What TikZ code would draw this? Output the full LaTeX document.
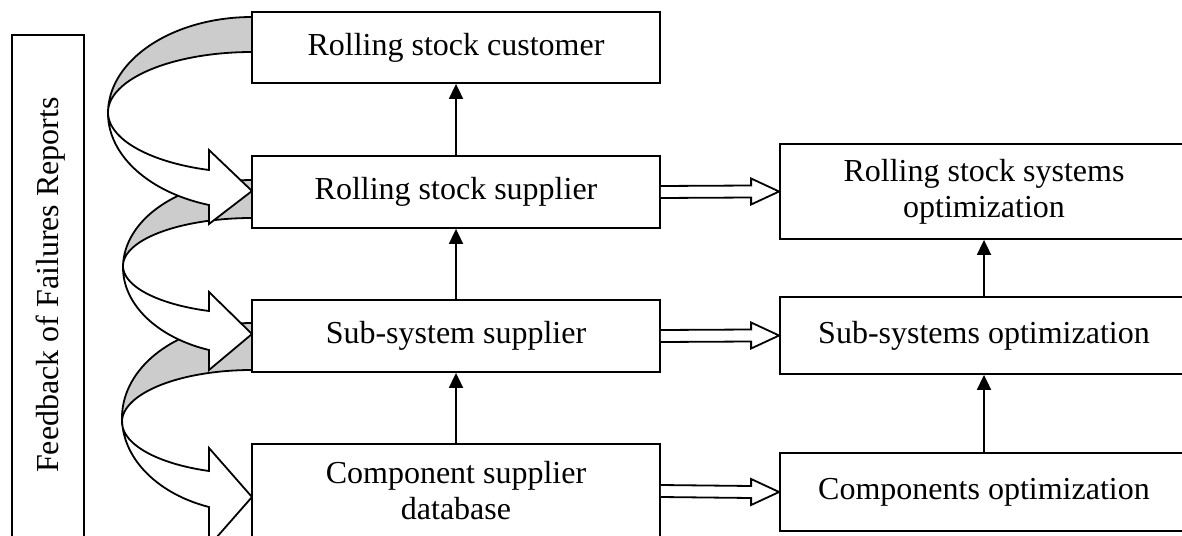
\documentclass[tikz,border=0pt]{standalone}
\usepackage{fontspec}
\setmainfont{Liberation Serif}
\usetikzlibrary{arrows.meta,calc}

\definecolor{bandgray}{RGB}{204,204,204}

\tikzset{
  box/.style={draw, line width=0.9pt, fill=white, inner sep=0pt,
    minimum width=204pt, align=center, font=\fontsize{16}{18}\selectfont},
  up/.style={draw, line width=0.9pt, -{Triangle[length=7.5pt,width=7pt]}},
  fat/.style={draw, line width=0.9pt, fill=white, line join=miter},
  band/.style={draw, line width=0.9pt, fill=bandgray},
  front/.style={draw, line width=0.9pt, fill=white, line join=miter},
}

% back half of a looping feedback arrow: rx, cy(outer), ry(outer), cy(inner), ry(inner)
\newcommand\loopband[5]{%
  \path[band] plot[domain=270:180, samples=60] ({252+#1*cos(\x)},{#2+#3*sin(\x)})
    -- plot[domain=180:270, samples=60] ({252+#1*cos(\x)},{#4+#5*sin(\x)}) -- cycle;}

% front half with its head: rx, cy(o), ry(o), cy(i), ry(i), end angle, head top, tip y, head bottom
\newcommand\loopfront[9]{%
  \path[front] plot[domain=180:#6, samples=40] ({252+#1*cos(\x)},{#2+#3*sin(\x)})
    -- (209,#9) -- (252,#8) -- (209,#7)
    -- plot[domain=#6:180, samples=40] ({252+#1*cos(\x)},{#4+#5*sin(\x)}) -- cycle;}

% wide hollow arrow between two boxes
\newcommand\fatarrow[2]{%
  \path[fat] ($(#1.east)+(0,-6)$) -- ($(#2.west)+(-28,-6)$) -- ($(#2.west)+(-28,-13)$)
    -- (#2.west) -- ($(#2.west)+(-28,13)$) -- ($(#2.west)+(-28,6)$) -- ($(#1.east)+(0,6)$);}

\begin{document}
\begin{tikzpicture}[x=0.5pt, y=-0.5pt]
  \path[use as bounding box, clip] (0,0) rectangle (1182,535);

  % looping feedback arrows on the left
  \loopband{144}{113.19}{96.19}{112.38}{60.38}
  \loopband{129}{267.5}{87.5}{265.87}{47.87}
  \loopband{130}{417.67}{94.67}{421.96}{51.96}
  \loopfront{144}{113.19}{96.19}{112.38}{60.38}{107.37}{150}{191}{224}
  \loopfront{129}{267.5}{87.5}{265.87}{47.87}{109.47}{292}{334}{370}
  \loopfront{130}{417.67}{94.67}{421.96}{51.96}{109.32}{448}{497}{546}

  % side label
  \node[draw, line width=0.9pt, minimum width=36pt, minimum height=255pt, inner sep=0pt]
    (fb) at (48,290) {};
  \node[rotate=90, inner sep=0pt, font=\fontsize{16}{18}\selectfont]
    (fbtext) at (51,285) {Feedback of Failures Reports};

  % supply chain
  \node[box, minimum height=35.5pt] (cust) at (456,47.5) {Rolling stock customer};
  \node[box, minimum height=36pt] (sup) at (456,192) {Rolling stock supplier};
  \node[box, minimum height=36pt] (sub) at (456,336) {Sub-system supplier};
  \node[box, minimum height=47pt] (comp) at (456,491) {Component supplier\\database};

  % optimization levels
  \node[box, minimum height=47.5pt] (sysopt) at (984,191.5) {Rolling stock systems\\optimization};
  \node[box, minimum height=38.5pt] (subopt) at (984,335.5) {Sub-systems optimization};
  \node[box, minimum height=39pt] (compopt) at (984,492) {Components optimization};

  \draw[up] (sup) -- (cust);
  \draw[up] (sub) -- (sup);
  \draw[up] (comp) -- (sub);
  \draw[up] (subopt) -- (sysopt);
  \draw[up] (compopt) -- (subopt);

  \fatarrow{sup}{sysopt}
  \fatarrow{sub}{subopt}
  \fatarrow{comp}{compopt}
\end{tikzpicture}
\end{document}
